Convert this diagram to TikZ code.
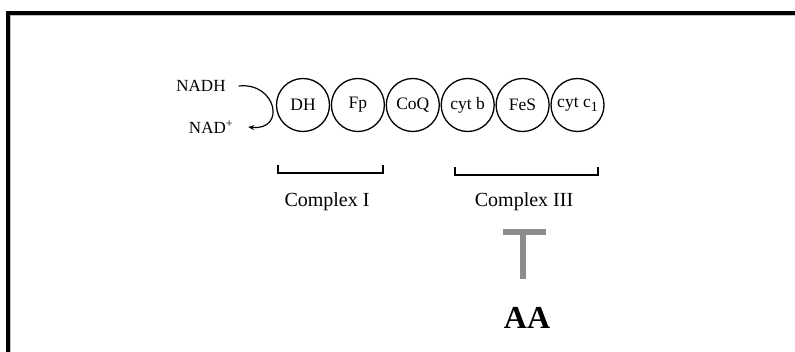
\documentclass[tikz,border=0pt]{standalone}
\usepackage{tikz}
\usetikzlibrary{arrows.meta, positioning}
\usepackage{fontspec}
\setmainfont{Liberation Serif}
\usepackage{xcolor}
\definecolor{inhibgray}{RGB}{140,140,140}
\tikzset{%
	every carrier/.style={
		circle,
		draw,
		line width=1.3pt,
		minimum size=53pt,
		inner sep=0pt,
		font=\fontsize{17.5}{20}\selectfont
	},
	bracket/.style={
		draw,
		line width=1.2pt
	},
}

\begin{document}
\begin{tikzpicture}[
				x=1pt, y=1pt,
				every node/.style={inner sep=0pt},
				label text/.style={font=\fontsize{17}{20}\selectfont},
				complex text/.style={font=\fontsize{20}{24}\selectfont}
				]
				\useasboundingbox (0,0) rectangle (795,-352);
				% frame
				\draw[gray!50, line width=1pt] (10.5,-352) -- (10.5,-15.5) -- (795,-15.5);
				\draw[line width=4pt] (8,-352) -- (8,-13) -- (795,-13);
				
				% carriers
				\node[every carrier] (dh) at (303,-105) {DH};
				\node[every carrier, right=0.6pt of dh] (fp) {Fp};
				\node[every carrier, right=0.6pt of fp] (coq) {CoQ};
				\node[every carrier, right=0.6pt of coq] (cytb) {cyt b};
				\node[every carrier, right=0.6pt of cytb] (fes) {FeS};
				\node[every carrier, right=0.6pt of fes] (cytc) {cyt c\raisebox{-4pt}{\fontsize{14}{14}\selectfont 1}};
				
				\node[label text] (nadh) at (201,-86) {NADH};
				\node[label text] (nad) at (211,-127) {NAD\textsuperscript{+}};
				\draw[line width=1.2pt, -{Stealth[length=6pt, width=5pt]}]
					([xshift=13pt]nadh.east) .. controls +(38,4) and +(38,-4) .. ([xshift=15pt]nad.east);
				
				% complexes
				\node[complex text] (cI) at (327,-202) {Complex I};
				\node[complex text] (cIII) at (524,-202) {Complex III};
				\draw[bracket] (278,-165) |- (383,-173) -- (383,-165);
				\draw[bracket] (455,-167) |- (598,-175) -- (598,-167);
				
				% inhibitor
				\node[font=\fontsize{32}{36}\selectfont\bfseries] (aa) at (527,-318) {AA};
				\coordinate (tstem) at (523,-279);
				\coordinate (tbar) at (523,-235);
				\draw[inhibgray, line width=5.5pt] (tstem) -- (tbar);
				\draw[inhibgray, line width=6pt] (503,-232) -- (546,-232);
				
			\end{tikzpicture}
\end{document}
